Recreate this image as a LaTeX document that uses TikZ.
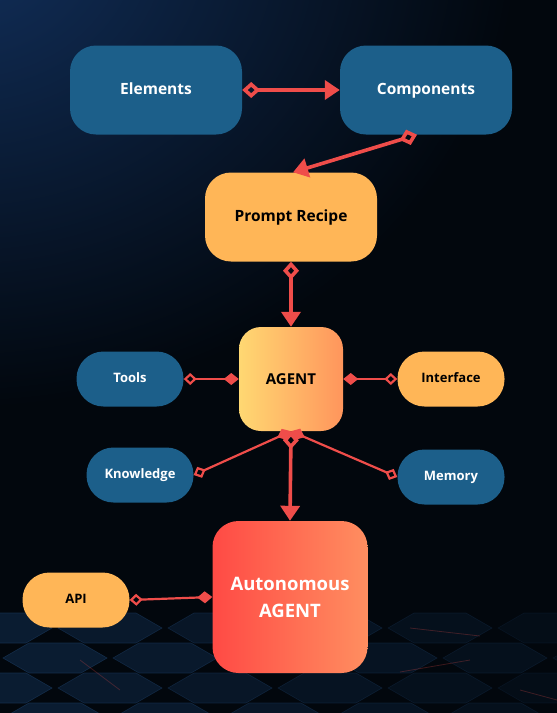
\documentclass[tikz,border=0pt]{standalone}
\usepackage{fontspec}
\setmainfont{Open Sans}
\usetikzlibrary{arrows.meta}
\usetikzlibrary{fadings}

\definecolor{bluebox}{HTML}{1C5F8A}
\definecolor{goldbox}{HTML}{FFB657}
\definecolor{linkred}{HTML}{EF4D4A}
\definecolor{bgglow}{HTML}{12305C}
\definecolor{bgdark}{HTML}{02070D}
\definecolor{hexfill}{HTML}{0C2038}
\definecolor{hexedge}{HTML}{15304F}
\definecolor{agentleft}{HTML}{FFD872}
\definecolor{agentright}{HTML}{FF955C}
\definecolor{autoleft}{HTML}{FF4A45}
\definecolor{autoright}{HTML}{FF8E60}
\tikzfading[name=glow, inner color=transparent!0, outer color=transparent!100]

\begin{document}
\begin{tikzpicture} [x=1pt, y=-1pt,
  bigbox/.style={rounded corners=26pt, minimum width=172pt, minimum height=89pt, inner sep=0pt, text height=11.5pt, text depth=3.5pt, font=\bfseries\fontsize{15.5}{18}\selectfont},
  pill/.style={rounded corners=27pt, minimum width=107pt, minimum height=55pt, inner sep=0pt, text height=10pt, text depth=3pt, font=\bfseries\fontsize{13}{16}\selectfont},
  bluefill/.style={fill=bluebox, text=white},
  goldfill/.style={fill=goldbox, text=black},
  flow/.style={draw=linkred, line width=3.6pt, {Diamond[open, length=18pt, width=16pt]}-{Triangle[length=15pt, width=19pt]}},
  link/.style={draw=linkred, line width=2.2pt, {Diamond[open, length=13pt, width=12pt]}-{Diamond[length=15pt, width=12pt]}}
]
\useasboundingbox (0,0) rectangle (557,713);
\begin{scope}
\clip (0,0) rectangle (557,713);
\fill[bgdark] (0,0) rectangle (557,713);
\fill[bgglow, path fading=glow] (-40,-60) ellipse (560pt and 470pt);
\foreach \r in {0,...,3} \foreach \c in {-1,...,6} {
  \pgfmathsetmacro\cx{\c*110 + mod(\r,2)*55}
  \pgfmathsetmacro\cy{628 + \r*30}
  \pgfmathsetmacro\op{max(0.15, 0.85 - \c*0.12)}
  \filldraw[fill=hexfill, draw=hexedge, line width=.6pt, fill opacity=\op, draw opacity=\op] (\cx,\cy) +(-52,0) -- +(-26,-15) -- +(26,-15) -- +(52,0) -- +(26,15) -- +(-26,15) -- cycle;
}
\draw[linkred, opacity=.25, line width=.8pt] (410,628) -- (480,636) (400,672) -- (470,660) (520,690) -- (557,700) (80,660) -- (120,690);
\end{scope}

\node[bigbox, bluefill] (elem) at (156,90) {Elements};
\node[bigbox, bluefill] (comp) at (426,90) {Components};
\node[bigbox, goldfill] (recipe) at (291,217) {Prompt Recipe};
\node[rounded corners=22pt, minimum width=104pt, minimum height=104pt, inner sep=0pt, left color=agentleft, right color=agentright, font=\bfseries\fontsize{15}{18}\selectfont] (agent) at (291,379) {AGENT};
\node[pill, bluefill] (tools) at (130,379) {Tools};
\node[pill, goldfill] (iface) at (451,379) {Interface};
\node[pill, bluefill] (know) at (140,475) {Knowledge};
\node[pill, bluefill] (mem) at (451,477) {Memory};
\node[rounded corners=26pt, minimum width=155pt, minimum height=152pt, inner sep=0pt, left color=autoleft, right color=autoright, text=white, align=center, font=\bfseries\fontsize{18.5}{27}\selectfont] (auto) at (290,597) {Autonomous\\AGENT};
\node[pill, goldfill] (api) at (76,600) {API};

\draw[flow] (elem.east) -- (comp.west);
\draw[flow] ([xshift=-9pt]comp.south) -- ([xshift=2pt]recipe.north);
\draw[flow] (recipe.south) -- (agent.north);
\draw[flow] (agent.south) -- (auto.north);
\draw[link] (tools.east) -- (agent.west);
\draw[link] (iface.west) -- (agent.east);
\draw[link] (know.east) -- (agent.south);
\draw[link] (mem.west) -- (agent.south);
\draw[link] (api.east) -- (auto.west);
\end{tikzpicture}
\end{document}
